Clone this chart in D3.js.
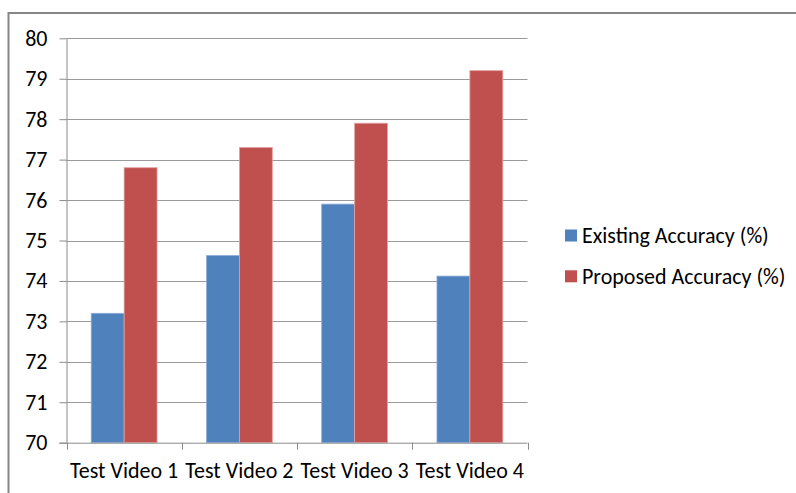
<!DOCTYPE html>
<html>
<head>
<meta charset="utf-8">
<script src="https://cdn.jsdelivr.net/npm/d3@7"></script>
<style>
  html, body { margin: 0; padding: 0; background: #fff; }
  svg { display: block; }
  text { font-family: Carlito, "Open Sans", sans-serif; fill: #000; }
</style>
</head>
<body>
<svg id="chart" width="796" height="493"></svg>
<script>
const categories = ["Test Video 1", "Test Video 2", "Test Video 3", "Test Video 4"];
const seriesNames = ["Existing Accuracy (%)", "Proposed Accuracy (%)"];
const existingAccuracy = [73.2, 74.63, 75.9, 74.12];
const proposedAccuracy = [76.8, 77.3, 77.9, 79.2];
const yTicks = [70, 71, 72, 73, 74, 75, 76, 77, 78, 79, 80];
const colors = ["#4F81BD", "#C0504D"];
const strokeColors = ["#8FB0DA", "#E3A3A1"];

(function () {
const series = [existingAccuracy, proposedAccuracy];
const svg = d3.select("#chart");
const fs = 22;

// outer chart border
svg.append("rect")
  .attr("x", 8.5).attr("y", 13).attr("width", 820).attr("height", 520)
  .attr("fill", "none").attr("stroke", "#868686").attr("stroke-width", 2);

const pLeft = 66.5, pRight = 527.5, pTop = 38.3, pBottom = 442.7;

const x = d3.scaleBand().domain(categories).range([pLeft, pRight]).paddingInner(0).paddingOuter(0);
const y = d3.scaleLinear().domain([70, 80]).range([pBottom, pTop]);
const barW = x.bandwidth() / 3.5;
const xs = d3.scaleBand().domain(d3.range(series.length)).range([0, barW * series.length]);

// gridlines
svg.append("g").selectAll("line").data(yTicks.filter(d => d !== 70)).join("line")
  .attr("x1", pLeft).attr("x2", pRight)
  .attr("y1", d => Math.round(y(d)) + 0.5).attr("y2", d => Math.round(y(d)) + 0.5)
  .attr("stroke", "#9a9a9a").attr("stroke-width", 1);

// y axis
const yAxis = svg.append("g").attr("transform", `translate(${pLeft},0)`)
  .call(d3.axisLeft(y).tickValues(yTicks).tickSize(7).tickPadding(12).tickSizeOuter(0));
yAxis.select(".domain").attr("stroke", "#8a8a8a");
yAxis.selectAll(".tick line").attr("stroke", "#8a8a8a");
yAxis.selectAll(".tick text").attr("font-size", fs).attr("font-family", null).attr("fill", "#000");

// bars
const groups = svg.append("g").selectAll("g").data(categories).join("g")
  .attr("transform", c => `translate(${x(c) + (x.bandwidth() - barW * series.length) / 2},0)`);
groups.selectAll("rect").data((c, i) => series.map((s, k) => ({ k, v: s[i] }))).join("rect")
  .attr("x", d => xs(d.k))
  .attr("width", barW)
  .attr("y", d => y(d.v))
  .attr("height", d => y(70) - y(d.v))
  .attr("fill", d => colors[d.k])
  .attr("stroke", d => strokeColors[d.k])
  .attr("stroke-width", 0.8);

// x axis
const xAxisG = svg.append("g").attr("transform", `translate(0,${pBottom})`);
xAxisG.append("line").attr("x1", pLeft - 7).attr("x2", pRight).attr("y1", 0.5).attr("y2", 0.5)
  .attr("stroke", "#8a8a8a");
const boundaries = categories.map(c => x(c)).concat([pRight]);
xAxisG.selectAll("line.tk").data(boundaries).join("line").attr("class", "tk")
  .attr("x1", d => Math.round(d) + 0.5).attr("x2", d => Math.round(d) + 0.5)
  .attr("y1", 0).attr("y2", 7).attr("stroke", "#8a8a8a");
xAxisG.selectAll("text").data(categories).join("text")
  .attr("x", c => x(c) + x.bandwidth() / 2)
  .attr("y", 35)
  .attr("text-anchor", "middle")
  .attr("font-size", fs)
  .text(c => c);

// legend
const legend = svg.append("g").selectAll("g").data(seriesNames).join("g")
  .attr("transform", (d, i) => `translate(565,${235.5 + i * 40.8})`);
legend.append("rect").attr("x", 0).attr("y", -6).attr("width", 12).attr("height", 12)
  .attr("fill", (d, i) => colors[i]);
legend.append("text").attr("x", 17).attr("y", 0).attr("dy", "0.33em")
  .attr("font-size", fs).text(d => d);
})();
</script>
</body>
</html>
